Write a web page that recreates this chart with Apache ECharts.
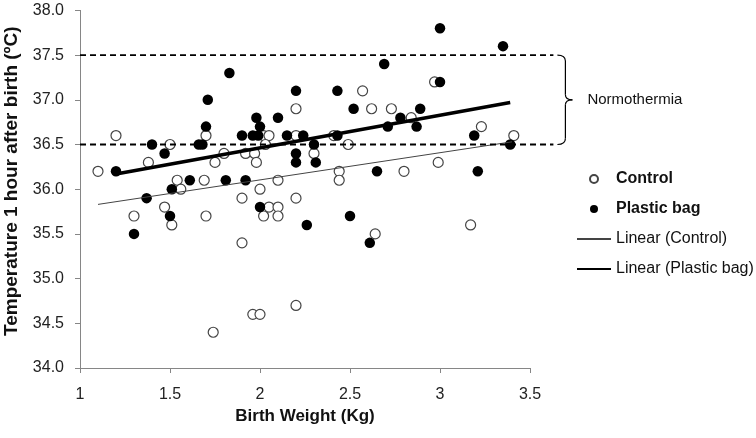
<!DOCTYPE html>
<html>
<head>
<meta charset="utf-8">
<script src="https://cdn.jsdelivr.net/npm/echarts@6/dist/echarts.min.js"></script>
<style>
  html, body { margin: 0; padding: 0; background: #fff; }
  #chart { width: 756px; height: 438px; }
</style>
</head>
<body>
<div id="chart"></div>
<script>
  // birth weight (kg), temperature 1 h after birth (degC)
  var control = [
    [1.1, 36.2], [1.2, 36.6], [1.3, 35.7], [1.38, 36.3], [1.47, 35.8], [1.5, 36.5],
    [1.51, 35.6], [1.54, 36.1], [1.56, 36.0], [1.69, 36.1], [1.7, 36.6], [1.7, 35.7],
    [1.74, 34.4], [1.75, 36.3], [1.8, 36.4], [1.9, 35.9], [1.9, 35.4], [1.92, 36.4],
    [1.96, 34.6], [1.97, 36.4], [1.98, 36.3], [2.0, 36.0], [2.0, 34.6], [2.02, 36.6],
    [2.05, 36.6], [2.03, 36.5], [2.02, 35.7], [2.05, 35.8], [2.1, 36.1], [2.1, 35.8],
    [2.1, 35.7], [2.2, 36.9], [2.2, 36.6], [2.2, 35.9], [2.2, 34.7], [2.3, 36.4],
    [2.41, 36.6], [2.44, 36.2], [2.44, 36.1], [2.49, 36.5], [2.57, 37.1], [2.62, 36.9],
    [2.64, 35.5], [2.73, 36.9], [2.8, 36.2], [2.84, 36.8], [2.97, 37.2], [2.99, 36.3],
    [3.17, 35.6], [3.23, 36.7], [3.41, 36.6]
  ]
  var plasticBag = [
    [1.2, 36.2], [1.3, 35.5], [1.37, 35.9], [1.4, 36.5], [1.47, 36.4], [1.5, 35.7],
    [1.51, 36.0], [1.61, 36.1], [1.66, 36.5], [1.68, 36.5], [1.7, 36.7], [1.71, 37.0],
    [1.81, 36.1], [1.83, 37.3], [1.9, 36.6], [1.92, 36.1], [1.96, 36.6], [1.98, 36.8],
    [1.99, 36.6], [2.0, 36.7], [2.0, 35.8], [2.1, 36.8], [2.15, 36.6], [2.2, 37.1],
    [2.2, 36.4], [2.2, 36.3], [2.24, 36.6], [2.26, 35.6], [2.3, 36.5], [2.31, 36.3],
    [2.43, 37.1], [2.43, 36.6], [2.5, 35.7], [2.52, 36.9], [2.61, 35.4], [2.65, 36.2],
    [2.69, 37.4], [2.71, 36.7], [2.78, 36.8], [2.87, 36.7], [2.89, 36.9], [3.0, 37.8],
    [3.0, 37.2], [3.19, 36.6], [3.21, 36.2], [3.35, 37.6], [3.39, 36.5]
  ]
  // trend line end points
  var linearControl = [[1.1, 35.83], [3.4, 36.53]]
  var linearPlastic = [[1.2, 36.17], [3.39, 36.97]]
  // normothermia band
  var normLow = 36.5
  var normHigh = 37.5
  var bandStartX = 1
  var bandEndX = 3.63

  var font = 'Liberation Sans, Arial, sans-serif'
  var axisGray = '#868686'

  var chart = echarts.init(document.getElementById('chart'))
  chart.setOption({
    animation: false,
    textStyle: { fontFamily: font },
    grid: { left: 80, top: 10.4, right: 226, bottom: 70, outerBoundsMode: 'none' },
    legend: {
      orient: 'vertical',
      left: 571,
      top: 166,
      itemWidth: 34,
      itemHeight: 8,
      itemGap: 14,
      selectedMode: false,
      textStyle: { fontSize: 16, color: '#111', fontFamily: font },
      data: [
        { name: 'Control', textStyle: { fontWeight: 'bold' } },
        { name: 'Plastic bag', textStyle: { fontWeight: 'bold' } },
        { name: 'Linear (Control)', itemStyle: { opacity: 0 } },
        { name: 'Linear (Plastic bag)', itemStyle: { opacity: 0 } }
      ]
    },
    xAxis: {
      type: 'value',
      min: 1,
      max: 3.5,
      interval: 0.5,
      name: 'Birth Weight (Kg)',
      nameLocation: 'middle',
      nameGap: 38,
      nameTextStyle: { fontSize: 17, fontWeight: 'bold', color: '#111' },
      axisLine: { lineStyle: { color: axisGray } },
      axisTick: { show: true, length: 5, lineStyle: { color: axisGray } },
      axisLabel: { fontSize: 16, color: '#222', margin: 19 },
      splitLine: { show: false }
    },
    yAxis: {
      type: 'value',
      min: 34,
      max: 38,
      interval: 0.5,
      name: 'Temperature 1 hour after birth (ºC)',
      nameLocation: 'middle',
      nameGap: 59,
      nameTextStyle: { fontSize: 19, fontWeight: 'bold', color: '#111', padding: [0, 0, 0, 16] },
      axisLine: { show: true, lineStyle: { color: axisGray } },
      axisTick: { show: true, length: 5, lineStyle: { color: axisGray } },
      axisLabel: { fontSize: 16, color: '#222', margin: 16, formatter: function (v) { return v.toFixed(1) } },
      splitLine: { show: false }
    },
    series: [
      {
        name: 'Control',
        type: 'scatter',
        symbol: 'circle',
        symbolSize: 10,
        itemStyle: { color: '#fff', borderColor: '#444', borderWidth: 1.2, opacity: 1 },
        data: control
      },
      {
        name: 'Plastic bag',
        type: 'scatter',
        symbol: 'circle',
        symbolSize: 10.5,
        itemStyle: { color: '#000', opacity: 1 },
        data: plasticBag
      },
      {
        name: 'Linear (Control)',
        type: 'line',
        symbol: 'none',
        itemStyle: { color: '#444' },
        lineStyle: { color: '#444', width: 1 },
        data: linearControl
      },
      {
        name: 'Linear (Plastic bag)',
        type: 'line',
        symbol: 'none',
        itemStyle: { color: '#000' },
        lineStyle: { color: '#000', width: 3.5 },
        data: linearPlastic
      }
    ]
  })

  // dashed band lines, bracket and label, placed from data values
  function px (x, y) { return chart.convertToPixel({ gridIndex: 0 }, [x, y]) }
  var a1 = px(bandStartX, normHigh)
  var a2 = px(bandEndX, normHigh)
  var b1 = px(bandStartX, normLow)
  var b2 = px(bandEndX, normLow)
  var bx = a2[0] + 4
  var y1 = a2[1]
  var y2 = b2[1]
  var ym = (y1 + y2) / 2
  var vx = bx + 8
  var stroke = { stroke: '#000', lineWidth: 1.2, fill: null }
  var dash = { stroke: '#000', lineWidth: 1.8, lineDash: [6, 4] }
  chart.setOption({
    graphic: [
      { type: 'line', shape: { x1: a1[0], y1: a1[1], x2: a2[0], y2: a2[1] }, style: dash, z: 50 },
      { type: 'line', shape: { x1: b1[0], y1: b1[1], x2: b2[0], y2: b2[1] }, style: dash, z: 50 },
      { type: 'bezierCurve', shape: { x1: bx, y1: y1, x2: vx, y2: y1 + 6, cpx1: vx, cpy1: y1 }, style: stroke },
      { type: 'line', shape: { x1: vx, y1: y1 + 6, x2: vx, y2: ym - 5 }, style: stroke },
      { type: 'bezierCurve', shape: { x1: vx, y1: ym - 5, x2: vx + 7, y2: ym, cpx1: vx, cpy1: ym }, style: stroke },
      { type: 'bezierCurve', shape: { x1: vx + 7, y1: ym, x2: vx, y2: ym + 5, cpx1: vx, cpy1: ym }, style: stroke },
      { type: 'line', shape: { x1: vx, y1: ym + 5, x2: vx, y2: y2 - 6 }, style: stroke },
      { type: 'bezierCurve', shape: { x1: vx, y1: y2 - 6, x2: bx, y2: y2, cpx1: vx, cpy1: y2 }, style: stroke },
      {
        type: 'text',
        x: vx + 22,
        y: ym,
        style: { text: 'Normothermia', font: '15px ' + font, fill: '#111', verticalAlign: 'middle' }
      }
    ]
  })
</script>
</body>
</html>
